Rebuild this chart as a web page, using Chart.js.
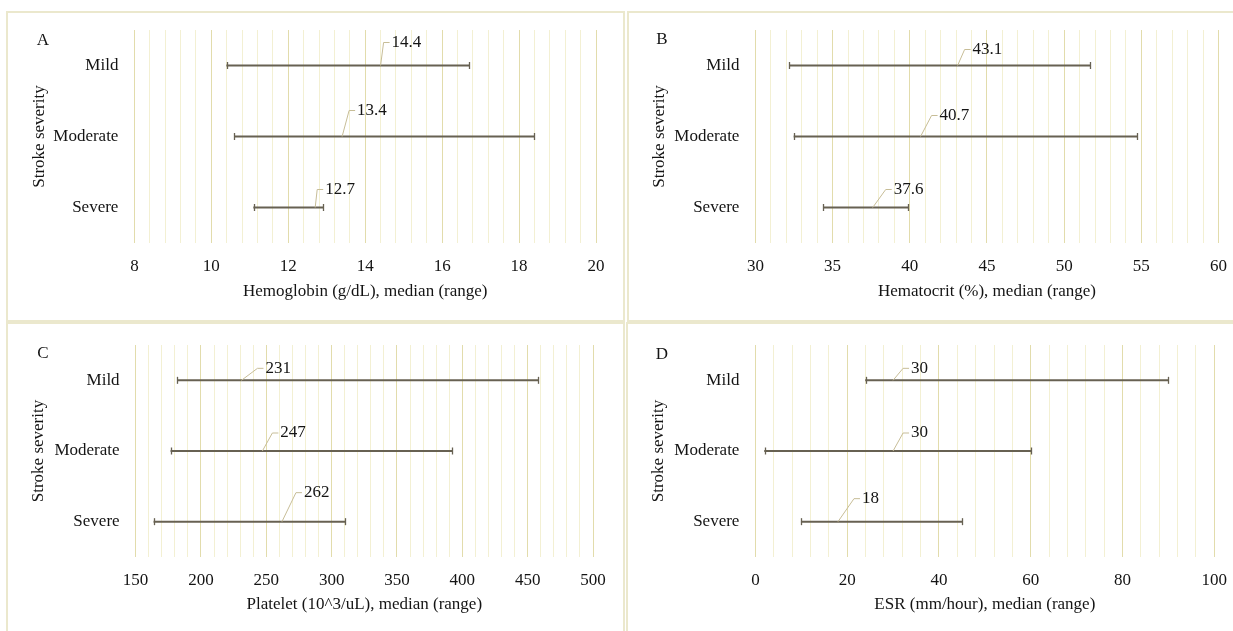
<!DOCTYPE html>
<html>
<head>
<meta charset="utf-8">
<script src="https://cdn.jsdelivr.net/npm/chart.js@4.4.1/dist/chart.umd.min.js"></script>
<style>
  html, body { margin: 0; padding: 0; background: #fff; overflow: hidden; }
  body { width: 1233px; height: 631px; position: relative; }
  .panel { position: absolute; box-sizing: border-box; border: 2px solid #ebe8cd; }
  canvas { position: absolute; }
</style>
</head>
<body>
<div class="panel" style="left:6px;top:11px;width:619px;height:311px"></div>
<div class="panel" style="left:627px;top:11px;width:700px;height:311px"></div>
<div class="panel" style="left:6px;top:322px;width:619px;height:400px"></div>
<div class="panel" style="left:626px;top:322px;width:700px;height:400px"></div>

<canvas id="chartA" width="616" height="308" style="left:8px;top:13px"></canvas>
<canvas id="chartB" width="612" height="308" style="left:628px;top:13px"></canvas>
<canvas id="chartC" width="617" height="308" style="left:7px;top:323px"></canvas>
<canvas id="chartD" width="613" height="308" style="left:627px;top:323px"></canvas>

<script>
// categories
var severity = ['Mild', 'Moderate', 'Severe'];

// A - hemoglobin (g/dL)
var hbMin = [10.4, 10.6, 11.1];
var hbMax = [16.7, 18.4, 12.9];
var hbMedian = [14.4, 13.4, 12.7];
var hbTicks = [8, 10, 12, 14, 16, 18, 20];

// B - hematocrit (%)
var hctMin = [32.2, 32.5, 34.4];
var hctMax = [51.7, 54.7, 39.9];
var hctMedian = [43.1, 40.7, 37.6];
var hctTicks = [30, 35, 40, 45, 50, 55, 60];

// C - platelet (10^3/uL)
var pltMin = [182, 177, 164];
var pltMax = [458, 392, 310];
var pltMedian = [231, 247, 262];
var pltTicks = [150, 200, 250, 300, 350, 400, 450, 500];

// D - ESR (mm/hour)
var esrMin = [24, 2, 10];
var esrMax = [90, 60, 45];
var esrMedian = [30, 30, 18];
var esrTicks = [0, 20, 40, 60, 80, 100];

var FONT = "'Liberation Serif', 'Times New Roman', serif";
var TEXT = '#141414';
var BAR = '#676152';
var LEADER = '#c7bd97';
var GRID_MINOR = '#f3f0d3';
var GRID_MAJOR = '#e2dcac';

function makeChart(id, o) {
  var ctx = document.getElementById(id).getContext('2d');
  var isMajor = function(v) {
    return o.ticks.some(function(t) { return Math.abs(t - v) < 1e-6; });
  };

  // caps at the range ends, leader line + median label, panel letter
  var marks = {
    id: 'marks' + id,
    afterDatasetsDraw: function(chart) {
      var c = chart.ctx, x = chart.scales.x, y = chart.scales.y;
      c.save();
      c.lineWidth = 1.3;
      c.strokeStyle = BAR;
      for (var i = 0; i < severity.length; i++) {
        var yy = y.getPixelForValue(i);
        [o.min[i], o.max[i]].forEach(function(v) {
          var px = Math.round(x.getPixelForValue(v)) + 0.5;
          c.beginPath();
          c.moveTo(px, yy - 3.5);
          c.lineTo(px, yy + 3.5);
          c.stroke();
        });
      }
      c.lineWidth = 1;
      c.strokeStyle = LEADER;
      c.fillStyle = TEXT;
      c.font = '17px ' + FONT;
      c.textBaseline = 'middle';
      c.textAlign = 'left';
      for (var j = 0; j < severity.length; j++) {
        var by = y.getPixelForValue(j);
        var mx = x.getPixelForValue(o.median[j]);
        var off = o.leader[j];
        var tx = mx + off[0], ty = by + off[1];
        c.beginPath();
        c.moveTo(mx, by);
        c.lineTo(tx, ty);
        c.lineTo(tx + 6, ty);
        c.stroke();
        c.fillText(String(o.median[j]), tx + 8, ty);
      }
      c.textAlign = 'center';
      c.fillText(o.letter, o.letterPos[0], o.letterPos[1]);
      c.restore();
    }
  };

  return new Chart(ctx, {
    type: 'bar',
    data: {
      labels: severity,
      datasets: [{
        data: o.min.map(function(v, i) { return [v, o.max[i]]; }),
        backgroundColor: BAR,
        barThickness: 1.4
      }]
    },
    options: {
      indexAxis: 'y',
      responsive: false,
      animation: false,
      layout: { padding: { left: 0, right: o.padR, top: o.padT, bottom: 0 } },
      plugins: { legend: { display: false }, tooltip: { enabled: false } },
      scales: {
        x: {
          type: 'linear',
          min: o.ticks[0],
          max: o.ticks[o.ticks.length - 1],
          afterFit: function(s) { s.height = o.xH; },
          grid: {
            drawTicks: false,
            color: function(c) { return c.tick && isMajor(c.tick.value) ? GRID_MAJOR : GRID_MINOR; }
          },
          border: { display: false },
          ticks: {
            stepSize: o.minor,
            autoSkip: false,
            maxRotation: 0,
            padding: 13,
            color: TEXT,
            font: { family: FONT, size: 17 },
            callback: function(v) { return isMajor(v) ? String(Math.round(v)) : ''; }
          },
          title: {
            display: true,
            text: o.xTitle,
            color: TEXT,
            font: { family: FONT, size: 17 },
            padding: { top: 0, bottom: o.titleB }
          }
        },
        y: {
          afterFit: function(s) { s.width = o.yW; s.paddingTop = 0; s.paddingBottom = 0; },
          grid: { display: false, drawTicks: false },
          border: { display: false },
          ticks: {
            padding: 16,
            color: TEXT,
            font: { family: FONT, size: 17 }
          },
          title: {
            display: true,
            text: 'Stroke severity',
            color: TEXT,
            font: { family: FONT, size: 17 },
            padding: { top: 21, bottom: 0 }
          }
        }
      }
    },
    plugins: [marks]
  });
}

makeChart('chartA', {
  min: hbMin, max: hbMax, median: hbMedian, ticks: hbTicks, minor: 0.4,
  xTitle: 'Hemoglobin (g/dL), median (range)', letter: 'A', letterPos: [35, 28],
  leader: [[3, -23], [7, -26], [2, -18]],
  yW: 126.4, padR: 28, padT: 17, xH: 78, titleB: 19
});

makeChart('chartB', {
  min: hctMin, max: hctMax, median: hctMedian, ticks: hctTicks, minor: 1,
  xTitle: 'Hematocrit (%), median (range)', letter: 'B', letterPos: [34, 27],
  leader: [[7, -16], [11, -21], [13, -18]],
  yW: 127.4, padR: 21, padT: 17, xH: 78, titleB: 19
});

makeChart('chartC', {
  min: pltMin, max: pltMax, median: pltMedian, ticks: pltTicks, minor: 10,
  xTitle: 'Platelet (10^3/uL), median (range)', letter: 'C', letterPos: [36, 31],
  leader: [[16, -12], [10, -18], [14, -29]],
  yW: 128.6, padR: 31, padT: 22, xH: 74, titleB: 16
});

makeChart('chartD', {
  min: esrMin, max: esrMax, median: esrMedian, ticks: esrTicks, minor: 4,
  xTitle: 'ESR (mm/hour), median (range)', letter: 'D', letterPos: [35, 32],
  leader: [[10, -12], [10, -18], [16, -23]],
  yW: 128.4, padR: 25, padT: 22, xH: 74, titleB: 16
});
</script>
</body>
</html>
